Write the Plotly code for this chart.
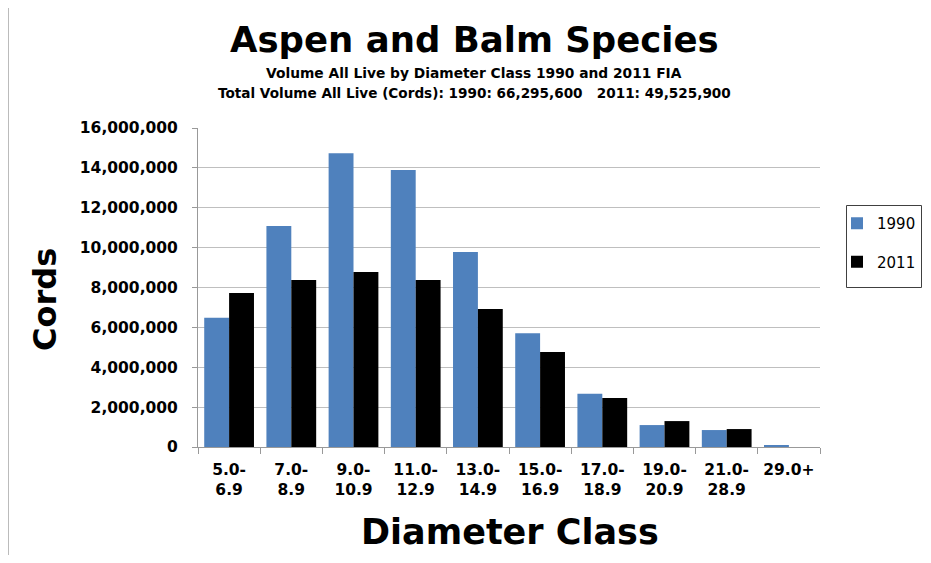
import plotly.graph_objects as go

categories = ["5.0-<br>6.9", "7.0-<br>8.9", "9.0-<br>10.9", "11.0-<br>12.9", "13.0-<br>14.9",
              "15.0-<br>16.9", "17.0-<br>18.9", "19.0-<br>20.9", "21.0-<br>28.9", "29.0+"]
values_1990 = [6480000, 11080000, 14730000, 13890000, 9780000, 5700000, 2670000, 1100000, 850000, 70000]
values_2011 = [7720000, 8370000, 8780000, 8370000, 6920000, 4760000, 2460000, 1300000, 900000, 0]
y_ticks = [0, 2000000, 4000000, 6000000, 8000000, 10000000, 12000000, 14000000, 16000000]

FONT = "DejaVu Sans"
OFF = 8  # page body margin
W, H = 931 - 2 * OFF, 563 - 2 * OFF
L, R, T, B = 198 - OFF, 820 - OFF, 128 - OFF, 447 - OFF


def px(xs):
    return (xs - OFF - L) / (R - L)


def py(ys):
    return (B - (ys - OFF)) / (B - T)


fig = go.Figure()
fig.add_trace(go.Bar(x=categories, y=values_1990, name="1990", marker_color="#4F81BD",
                     marker_line_width=0, legendgroup="a"))
fig.add_trace(go.Bar(x=categories, y=values_2011, name="2011", marker_color="#000000",
                     marker_line_width=0, legendgroup="b"))

fig.update_layout(
    width=W, height=H,
    margin=dict(l=L, r=W - R, t=T, b=H - B, autoexpand=False),
    paper_bgcolor="white", plot_bgcolor="white",
    barmode="group", bargap=0.2, bargroupgap=0,
    font=dict(family=FONT, color="black"),
    showlegend=True,
    legend=dict(x=px(837), y=py(207), xanchor="left", yanchor="top",
                borderwidth=0, bgcolor="rgba(0,0,0,0)",
                font=dict(size=15, family=FONT), tracegroupgap=16,
                itemwidth=30),
    xaxis=dict(showline=True, linecolor="#999999", linewidth=1,
               ticks="outside", tickson="boundaries", ticklen=6, tickcolor="#999999",
               tickfont=dict(size=15.5, family=FONT, color="black", weight="bold"),
               ticklabelstandoff=8, showgrid=False),
    yaxis=dict(range=[0, 16000000], tickvals=y_ticks, tickformat=",",
               showline=True, linecolor="#999999", linewidth=1,
               ticks="outside", ticklen=5, tickcolor="#999999",
               gridcolor="#BFBFBF", gridwidth=1,
               tickfont=dict(size=15.5, family=FONT, color="black", weight="bold"),
               ticklabelstandoff=11, zeroline=False),
    annotations=[
        dict(text="<b>Aspen and Balm Species</b>", x=px(474), y=py(40), xref="paper", yref="paper",
             xanchor="center", yanchor="middle",
             showarrow=False, font=dict(size=35.5, family=FONT)),
        dict(text="<b>Volume All Live by Diameter Class 1990 and 2011 FIA</b>", x=px(474), y=py(73),
             xanchor="center", yanchor="middle",
             xref="paper", yref="paper", showarrow=False, font=dict(size=13.8, family=FONT)),
        dict(text="<b>Total Volume All Live (Cords): 1990: 66,295,600   2011: 49,525,900</b>", x=px(474), y=py(93),
             xanchor="center", yanchor="middle",
             xref="paper", yref="paper", showarrow=False, font=dict(size=13.6, family=FONT)),
        dict(text="<b>Cords</b>", x=px(45), y=py(300), xref="paper", yref="paper", textangle=-90,
             xanchor="center", yanchor="middle",
             showarrow=False, font=dict(size=32, family=FONT)),
        dict(text="<b>Diameter Class</b>", x=px(510), y=py(532), xref="paper", yref="paper",
             xanchor="center", yanchor="middle",
             showarrow=False, font=dict(size=35, family=FONT)),
    ],
    shapes=[
        dict(type="line", xref="paper", yref="paper", x0=px(8.5), x1=px(8.5), y0=py(600), y1=py(0),
             line=dict(color="#BBBBBB", width=1), layer="below"),
        dict(type="rect", xref="paper", yref="paper", x0=px(846.5), x1=px(921.5), y0=py(287.5), y1=py(205.5),
             line=dict(color="#404040", width=1), layer="below"),
    ],
)

fig.write_html("out.html")
